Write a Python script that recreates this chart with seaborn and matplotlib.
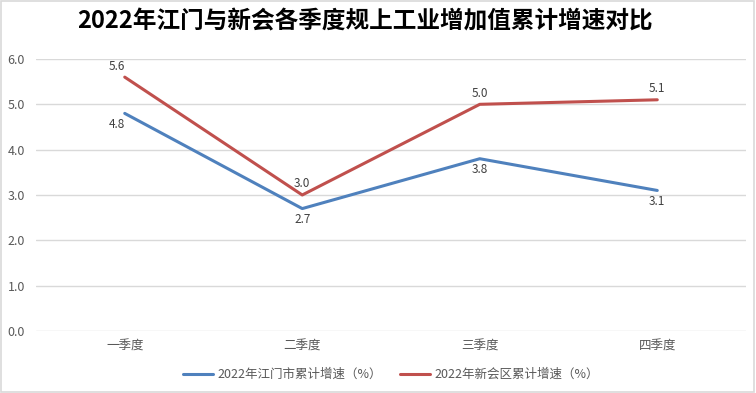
import seaborn as sns
import matplotlib.pyplot as plt
import pandas as pd
from matplotlib.patches import Rectangle

quarters = ["一季度", "二季度", "三季度", "四季度"]
jiangmen = [4.8, 2.7, 3.8, 3.1]
xinhui = [5.6, 3.0, 5.0, 5.1]
series_names = ["2022年江门市累计增速（%）", "2022年新会区累计增速（%）"]
title = "2022年江门与新会各季度规上工业增加值累计增速对比"

df = pd.DataFrame({
    "quarter": quarters * 2,
    "value": jiangmen + xinhui,
    "series": [series_names[0]] * 4 + [series_names[1]] * 4,
})

sns.set_style("white")
plt.rcParams["font.family"] = ["Noto Sans CJK SC", "DejaVu Sans"]

fig = plt.figure(figsize=(7.56, 3.93), dpi=100)
ax = fig.add_axes([0.0476, 0.1578, 0.9392, 0.6921])

palette = {series_names[0]: "#4F81BD", series_names[1]: "#C0504D"}
sns.lineplot(data=df, x="quarter", y="value", hue="series", palette=palette,
             linewidth=2.2, sort=False, ax=ax)

# data labels: red above, blue below
for i, (a, b) in enumerate(zip(jiangmen, xinhui)):
    dx = -6 if i == 0 else 0
    ax.annotate(f"{a:.1f}", (i, a), xytext=(dx, -8), textcoords="offset points",
                ha="center", va="center", fontsize=8.5, color="#404040")
    ax.annotate(f"{b:.1f}", (i, b), xytext=(dx, 8), textcoords="offset points",
                ha="center", va="center", fontsize=8.5, color="#404040")

ax.set_xlim(-0.5, 3.5)
ax.set_ylim(0, 6)
ax.set_yticks([0, 1, 2, 3, 4, 5, 6])
ax.set_yticklabels([f"{v:.1f}" for v in range(7)])
ax.grid(True, axis="y", color="#D9D9D9", linewidth=1)
ax.set_axisbelow(True)
for s in ax.spines.values():
    s.set_visible(False)
ax.tick_params(axis="both", length=0, labelsize=9, colors="#595959", pad=6)
ax.tick_params(axis="y", pad=8)
ax.set_xlabel("")
ax.set_ylabel("")

leg = ax.legend(loc="upper center", bbox_to_anchor=(0.5, -0.095), ncol=2, frameon=False,
                fontsize=9, handlelength=2.4, columnspacing=1.5, handletextpad=0.3)
for t in leg.get_texts():
    t.set_color("#595959")

fig.text(0.483, 0.945, title, ha="center", va="center", fontsize=17, fontweight="bold",
         color="black")

fig.patches.append(Rectangle((0.001, 0.002), 0.997, 0.995, transform=fig.transFigure,
                             fill=False, edgecolor="#D9D9D9", linewidth=1.2))

fig.savefig("out.png", dpi=100)
